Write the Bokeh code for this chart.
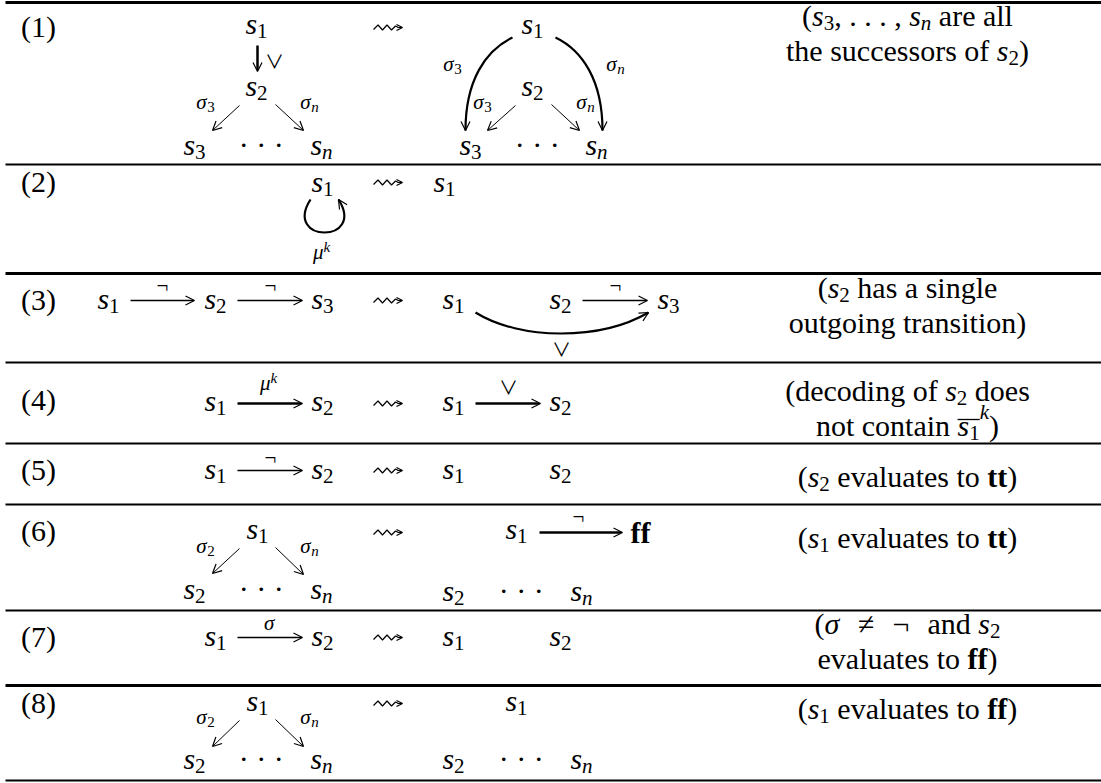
from bokeh.plotting import figure
from bokeh.models import Range1d, ColumnDataSource, Arrow, OpenHead
from bokeh.core.properties import value
from bokeh.embed import file_html
from bokeh.resources import INLINE
import math

# ---------------- content ----------------
row_tags = ["(1)", "(2)", "(3)", "(4)", "(5)", "(6)", "(7)", "(8)"]
row_tag_y = [36, 191, 309, 409, 479, 540, 646, 712]
row_tag_x = 38

rule_y = [2, 164, 273, 362, 443, 504, 610, 685, 780]
rule_w = [3, 2, 3, 2, 2, 2, 2, 3, 2]

# "leads to" squiggle arrows, one per row
leadsto_x = 373
leadsto_y = [27, 182, 300, 403, 470, 532, 637, 703]

node_label = ["s_1", "s_2", "s_3", "s_n", "s_1", "s_2", "s_3", "s_n",   # (1)
              "s_1", "s_1",                                            # (2)
              "s_1", "s_2", "s_3", "s_1", "s_2", "s_3",                # (3)
              "s_1", "s_2", "s_1", "s_2",                              # (4)
              "s_1", "s_2", "s_1", "s_2",                              # (5)
              "s_1", "s_2", "s_n", "s_1", "s_2", "s_n",                # (6)
              "s_1", "s_2", "s_1", "s_2",                              # (7)
              "s_1", "s_2", "s_n", "s_1", "s_2", "s_n"]                # (8)
node_x = [256, 256, 194, 321, 532, 532, 470, 596,
          322, 444,
          108, 215, 322, 453, 560, 668,
          215, 322, 453, 560,
          215, 322, 453, 560,
          257, 194, 321, 516, 453, 581,
          215, 322, 453, 560,
          257, 194, 321, 516, 453, 581]
node_y = [33, 95, 154, 154, 33, 95, 154, 154,
          191, 191,
          308, 308, 308, 308, 308, 308,
          410, 410, 410, 410,
          478, 478, 478, 478,
          538, 598, 598, 538, 600, 600,
          645, 645, 645, 645,
          710, 768, 768, 710, 768, 768]

dots_x = [257, 533, 257, 517, 257, 517]
dots_y = [154, 154, 598, 600, 768, 768]

const_label = ["*ff*"]
const_x = [640]
const_y = [542]

edge_label = ["∨", "σ_3", "σ_n", "σ_3", "σ_n", "σ_3", "σ_n", "μ^k",
              "¬", "¬", "¬", "∨", "μ^k", "∨", "¬",
              "σ_2", "σ_n", "¬", "σ", "σ_2", "σ_n"]
edge_x = [274, 205, 309, 452, 615, 482, 585, 321,
          162, 270, 615, 561, 268, 508, 270,
          205, 309, 578, 269, 205, 309]
edge_y = [65, 108, 108, 70, 70, 108, 108, 258,
          292, 292, 292, 353, 389, 391, 464,
          552, 552, 523, 629, 723, 723]

# straight arrows
arr_x0 = [257, 239, 275, 515, 551, 130, 237, 582, 237, 475, 237, 239, 275, 539, 237, 239, 275]
arr_y0 = [45, 105, 104, 105, 104, 300, 300, 300, 403, 403, 470, 548, 547, 532, 637, 720, 719]
arr_x1 = [257, 212, 303, 487, 579, 194, 302, 647, 302, 540, 302, 212, 303, 622, 302, 212, 303]
arr_y1 = [71, 130, 130, 130, 130, 300, 300, 300, 403, 403, 470, 573, 574, 532, 637, 746, 746]
arr_w = [2.5, 1, 1, 1, 1, 1.6, 1.6, 1.6, 2.6, 2.6, 1.6, 1, 1, 2.6, 1.6, 1, 1]

# curved arrows (cubic Bezier)
crv_x0 = [512, 555, 310, 475]
crv_y0 = [37, 37, 199, 312]
crv_cx0 = [485, 582, 282, 520]
crv_cy0 = [50, 50, 243, 340]
crv_cx1 = [465, 602, 366, 600]
crv_cy1 = [80, 80, 243, 340]
crv_x1 = [465, 602, 338, 648]
crv_y1 = [130, 130, 199, 312]
crv_w = [2.2, 2.2, 2.2, 2.2]

comment_text = ["($s_3$, . . . , $s_n$ are all",
                "the successors of $s_2$)",
                "($s_2$ has a single",
                "outgoing transition)",
                "(decoding of $s_2$ does",
                "not contain $!s_1!^k$)",
                "($s_2$ evaluates to $*tt*$)",
                "($s_1$ evaluates to $*tt*$)",
                "($σ~≠~¬~$and $s_2$",
                "evaluates to $*ff*$)",
                "($s_1$ evaluates to $*ff*$)"]
comment_y = [25, 60, 297, 332, 400, 435, 486, 547, 633, 668, 718]
comment_x = 907

# ---------------- typesetting helpers ----------------
SERIF = "Liberation Serif"
SYMF = "Noto Sans CJK JP"
BASE_SHIFT = 0.32   # renderer draws the alphabetic baseline this many em lower
ROMAN = {' ': 250, '(': 333, ')': 333, ',': 250, '.': 250, '·': 250, '¬': 564, '≠': 549,
         'a': 444, 'b': 500, 'c': 444, 'd': 500, 'e': 444, 'f': 333, 'g': 500, 'h': 500,
         'i': 278, 'j': 278, 'k': 500, 'l': 278, 'm': 778, 'n': 500, 'o': 500, 'p': 500,
         'q': 500, 'r': 333, 's': 389, 't': 278, 'u': 500, 'v': 500, 'w': 722, 'x': 500,
         'y': 500, 'z': 444}
for d in "0123456789":
    ROMAN[d] = 500
ITALIC = dict(ROMAN)
ITALIC.update({'s': 389, 'n': 500, 'k': 444, 'σ': 520, 'μ': 500})
BOLD = dict(ROMAN)
BOLD.update({'t': 333, 'f': 333})
SYM = {'∨': 1000}
TABLES = {'r': ROMAN, 'i': ITALIC, 'b': BOLD, 'd': SYM}
FONT = {'r': (SERIF, 'normal'), 'i': (SERIF, 'italic'), 'b': (SERIF, 'bold'), 'd': (SYMF, 'normal')}

texts = {k: dict(x=[], y=[], text=[], size=[]) for k in FONT}
overlines = dict(x0=[], x1=[], y=[])


def wid(t, st, sz):
    if st == 'gap':
        return sz
    if st == 'mark':
        return 0
    tab = TABLES[st]
    return sum(tab.get(c, 500) for c in t) * sz / 1000.0


def math_runs(src, level=0):
    B, S = (30, 21) if level == 0 else (21, 15)
    sub_dy, sup_dy = (4, -11) if level == 0 else (3, -7)
    runs = []
    bold = False
    i = 0
    while i < len(src):
        ch = src[i]
        if ch == '*':
            bold = not bold
            i += 1
            continue
        if ch == '!':
            runs.append(('', 'mark', 0, 0))
            i += 1
            continue
        if ch == '~':
            runs.append(('', 'gap', 18, 0))
            i += 1
            continue
        if ch in '_^':
            t = src[i + 1]
            st = 'r' if t.isdigit() else 'i'
            dy = sub_dy if ch == '_' else sup_dy
            if ch == '^' and runs and runs[-1][1] == 'mark':
                dy -= 6
            runs.append((t, st, S, dy))
            i += 2
            continue
        if bold:
            st = 'b'
        elif ch in SYM:
            st = 'd'
        elif ch.isalpha():
            st = 'i'
        else:
            st = 'r'
        if st == 'd':
            runs.append((ch, st, 19, 1))
        else:
            runs.append((ch, st, B, 0))
        i += 1
    return runs


def mixed_runs(src):
    runs = []
    for k, seg in enumerate(src.split('$')):
        if not seg:
            continue
        if k % 2:
            runs += math_runs(seg, 0)
        else:
            runs.append((seg, 'r', 30, 0))
    return runs


def place(runs, cx, base):
    total = sum(wid(t, st, sz) for t, st, sz, dy in runs)
    x = cx - total / 2.0
    marks = []
    for t, st, sz, dy in runs:
        w = wid(t, st, sz)
        if st == 'mark':
            marks.append(x)
        elif st != 'gap':
            lead = len(t) - len(t.lstrip(' '))
            s = t.strip(' ')
            if s:
                d = texts[st]
                d['x'].append(x + wid(' ' * lead, st, sz))
                d['y'].append(base + dy - BASE_SHIFT * sz)
                d['text'].append(s)
                d['size'].append("%dpx" % sz)
        x += w
    for a, b in zip(marks[0::2], marks[1::2]):
        overlines['x0'].append(a)
        overlines['x1'].append(b)
        overlines['y'].append(base - 16)


# ---------------- build ----------------
for tag, y in zip(row_tags, row_tag_y):
    place([(tag, 'r', 30, 0)], row_tag_x, y)
for lab, x, y in zip(node_label, node_x, node_y):
    place(math_runs(lab, 0), x, y)
for x, y in zip(dots_x, dots_y):
    place([('· · ·', 'r', 30, 0)], x, y)
for lab, x, y in zip(const_label, const_x, const_y):
    place(math_runs(lab, 0), x, y)
for lab, x, y in zip(edge_label, edge_x, edge_y):
    place(math_runs(lab, 1), x, y)
for line, y in zip(comment_text, comment_y):
    place(mixed_runs(line), comment_x, y)

p = figure(width=1101, height=783, x_range=Range1d(0, 1101), y_range=Range1d(783, 0),
           output_backend="svg", toolbar_location=None, min_border=0,
           x_axis_type=None, y_axis_type=None, background_fill_color="white")
p.grid.visible = False
p.outline_line_color = None

# horizontal rules
p.segment(x0=[5] * len(rule_y), x1=[1101] * len(rule_y), y0=rule_y, y1=rule_y,
          line_width=rule_w, line_color="black")

# squiggly "leads to" arrows (glyph shape: zigzag + open head)
zig_dx = [0, 4.5, 9, 13.5, 18, 22, 25]
zig_dy = [2, -2.5, 2.5, -2.5, 2.5, -1.5, 0]
sq_xs = [[leadsto_x + d for d in zig_dx] for _ in leadsto_y]
sq_ys = [[y + d for d in zig_dy] for y in leadsto_y]
p.multi_line(xs=sq_xs, ys=sq_ys, line_width=1.2, line_color="black")
lsrc = ColumnDataSource(dict(x0=[leadsto_x + 24] * len(leadsto_y), y0=leadsto_y,
                             x1=[leadsto_x + 29] * len(leadsto_y), y1=leadsto_y))
p.add_layout(Arrow(end=OpenHead(size=6, line_width=1.2, line_color="black"),
                   x_start='x0', y_start='y0', x_end='x1', y_end='y1',
                   line_width=1.2, line_color="black", source=lsrc))

# straight arrows
asrc = ColumnDataSource(dict(x0=arr_x0, y0=arr_y0, x1=arr_x1, y1=arr_y1, w=arr_w))
p.add_layout(Arrow(end=OpenHead(size=9, line_width=1.2, line_color="black"),
                   x_start='x0', y_start='y0', x_end='x1', y_end='y1',
                   line_width='w', line_color="black", source=asrc))

# curved arrows
csrc = ColumnDataSource(dict(x0=crv_x0, y0=crv_y0, cx0=crv_cx0, cy0=crv_cy0,
                             cx1=crv_cx1, cy1=crv_cy1, x1=crv_x1, y1=crv_y1, w=crv_w))
p.bezier(x0='x0', y0='y0', x1='x1', y1='y1', cx0='cx0', cy0='cy0', cx1='cx1', cy1='cy1',
         line_width='w', line_color="black", source=csrc)
hx0, hy0 = [], []
for ex, ey, qx, qy in zip(crv_x1, crv_y1, crv_cx1, crv_cy1):
    dx, dy = ex - qx, ey - qy
    n = math.hypot(dx, dy)
    hx0.append(ex - 2 * dx / n)
    hy0.append(ey - 2 * dy / n)
hsrc = ColumnDataSource(dict(x0=hx0, y0=hy0, x1=crv_x1, y1=crv_y1, w=crv_w))
p.add_layout(Arrow(end=OpenHead(size=9, line_width=1.2, line_color="black"),
                   x_start='x0', y_start='y0', x_end='x1', y_end='y1',
                   line_width='w', line_color="black", source=hsrc))

# overlines
if overlines['x0']:
    p.segment(x0=overlines['x0'], x1=overlines['x1'], y0=overlines['y'], y1=overlines['y'],
              line_width=1.3, line_color="black")

# texts
for key, d in texts.items():
    if not d['x']:
        continue
    font, style = FONT[key]
    p.text(x='x', y='y', text='text', source=ColumnDataSource(d),
           text_font=value(font), text_font_style=style, text_font_size='size',
           text_align='left', text_baseline='alphabetic', text_color="black")

open("out.html", "w").write(file_html(p, INLINE))
